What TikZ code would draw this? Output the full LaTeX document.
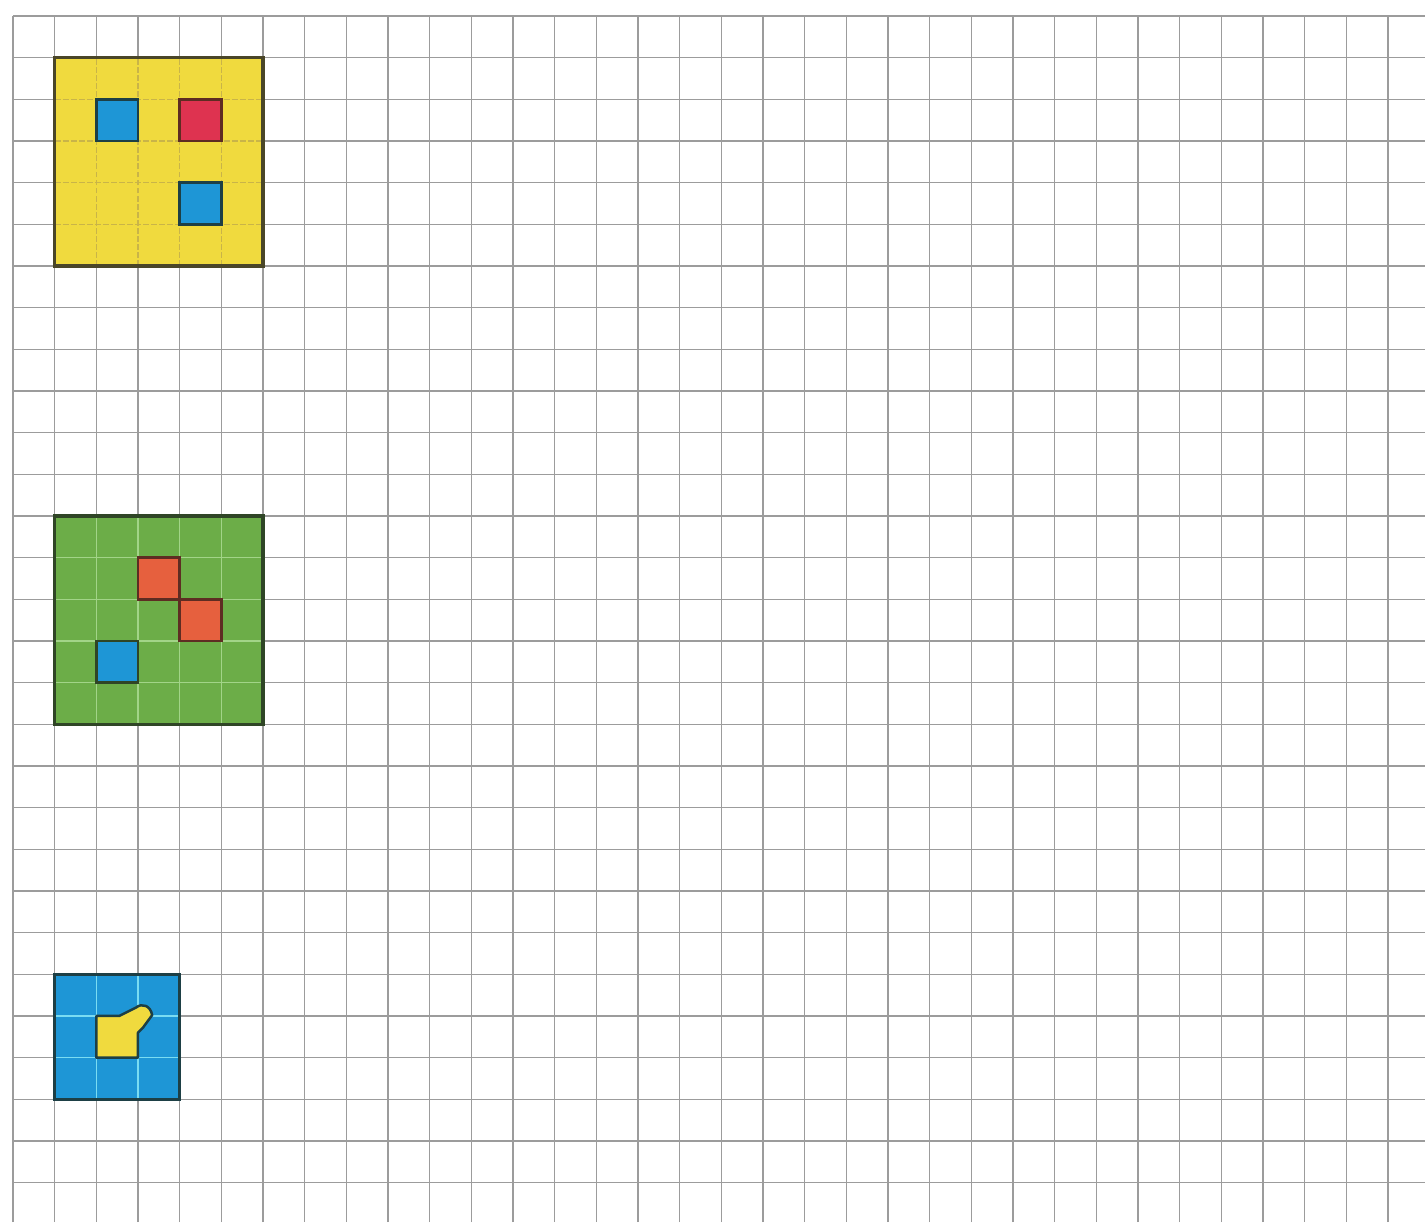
\documentclass[tikz,border=0pt]{standalone}
\usetikzlibrary{calc}
\definecolor{gridgray}{HTML}{9C9C9C}
\definecolor{ylw}{HTML}{F0DA3E}
\definecolor{ylwline}{HTML}{C9B448}
\definecolor{olive}{HTML}{4A4628}
\definecolor{skyb}{HTML}{1E96D6}
\definecolor{bluedark}{HTML}{1D3F45}
\definecolor{crimson}{HTML}{DE3350}
\definecolor{browndark}{HTML}{5E2C22}
\definecolor{grn}{HTML}{6CAD48}
\definecolor{grnline}{HTML}{A2D488}
\definecolor{grndark}{HTML}{2F4526}
\definecolor{orng}{HTML}{E6603E}
\definecolor{cyanline}{HTML}{7ADCF2}
\tikzset{
  gridline/.style={draw=gridgray, line width=0.85pt},
  bigsq/.style={line width=2.1pt},
  cellsq/.style={line width=1.7pt},
}
\begin{document}
\begin{tikzpicture}[x=1cm,y=1cm]
  % page and margins
  \fill[white] (-0.312,0.384) rectangle (33.89,-28.95);
  \useasboundingbox (-0.312,0.384) rectangle (33.89,-28.95);
  % squared paper
  \draw[gridline] (0,-28.95) grid (33.89,0);

  % yellow board
  \fill[ylw] (1,-1) rectangle (6,-6);
  \draw[ylwline, line width=0.8pt, dash pattern=on 4pt off 1.5pt] (1,-6) grid (6,-1);
  \draw[bigsq, draw=olive] (1,-1) rectangle (6,-6);
  \draw[cellsq, fill=skyb, draw=bluedark] (2,-2) rectangle (3,-3);
  \draw[cellsq, fill=crimson, draw=browndark] (4,-2) rectangle (5,-3);
  \draw[cellsq, fill=skyb, draw=bluedark] (4,-4) rectangle (5,-5);

  % green board
  \fill[grn] (1,-12) rectangle (6,-17);
  \draw[grnline, line width=0.9pt] (1,-17) grid (6,-12);
  \draw[bigsq, draw=grndark] (1,-12) rectangle (6,-17);
  \draw[cellsq, fill=orng, draw=browndark] (3,-13) rectangle (4,-14);
  \draw[cellsq, fill=orng, draw=browndark] (4,-14) rectangle (5,-15);
  \draw[cellsq, fill=skyb, draw=grndark] (2,-15) rectangle (3,-16);

  % blue board
  \fill[skyb] (1,-23) rectangle (4,-26);
  \draw[cyanline, line width=0.9pt] (1,-26) grid (4,-23);
  \draw[bigsq, draw=bluedark] (1,-23) rectangle (4,-26);
  \draw[cellsq, fill=ylw, draw=bluedark, line join=round]
    (2,-25) -- (2,-24) -- (2.55,-24) -- (2.95,-23.8)
    .. controls (3.1,-23.68) and (3.3,-23.75) .. (3.34,-23.98)
    -- (3.12,-24.28) -- (3,-24.4) -- (3,-25) -- cycle;
\end{tikzpicture}
\end{document}
